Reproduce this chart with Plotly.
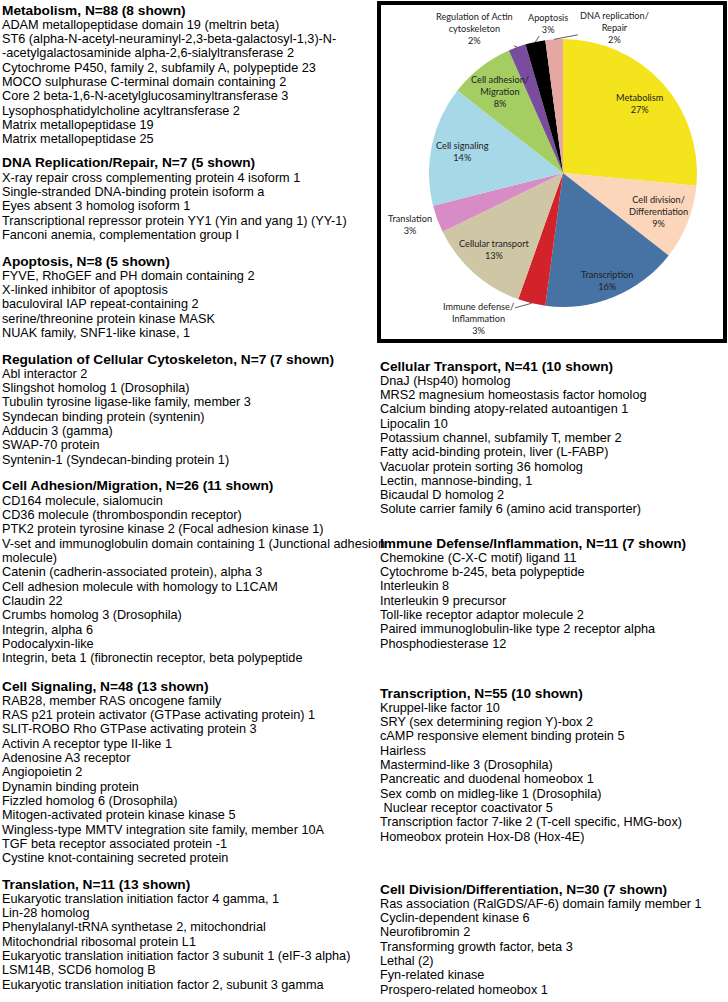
import math
import plotly.graph_objects as go

W, H = 728, 1002

# ---- pie data ----
categories = ["Metabolism", "Cell division/<br>Differentiation", "Transcription",
              "Immune defense/<br>Inflammation", "Cellular transport", "Translation",
              "Cell signaling", "Cell adhesion/<br>Migration",
              "Regulation of Actin<br>cytoskeleton", "Apoptosis", "DNA replication/<br>Repair"]
gene_counts = [88, 30, 55, 11, 41, 11, 48, 26, 7, 8, 7]
pct_labels = ["27%", "9%", "16%", "3%", "13%", "3%", "14%", "8%", "2%", "3%", "2%"]
slice_colors = ["#F4E41E", "#FCD6BA", "#4672A4", "#D2232A", "#CFC6A6", "#D78CC5",
                "#A7D8E8", "#A4CD62", "#7A4C9D", "#000000", "#E6A7A2"]
outside = ["Immune defense/<br>Inflammation", "Translation", "Regulation of Actin<br>cytoskeleton",
           "Apoptosis", "DNA replication/<br>Repair"]

# ---- gene lists ----
metabolism = ["ADAM metallopeptidase domain 19 (meltrin beta)",
              "ST6 (alpha-N-acetyl-neuraminyl-2,3-beta-galactosyl-1,3)-N-",
              "-acetylgalactosaminide alpha-2,6-sialyltransferase 2",
              "Cytochrome P450, family 2, subfamily A, polypeptide 23",
              "MOCO sulphurase C-terminal domain containing 2",
              "Core 2 beta-1,6-N-acetylglucosaminyltransferase 3",
              "Lysophosphatidylcholine acyltransferase 2",
              "Matrix metallopeptidase 19",
              "Matrix metallopeptidase 25"]
dna_repair = ["X-ray repair cross complementing protein 4 isoform 1",
              "Single-stranded DNA-binding protein isoform a",
              "Eyes absent 3 homolog isoform 1",
              "Transcriptional repressor protein YY1 (Yin and yang 1) (YY-1)",
              "Fanconi anemia, complementation group I"]
apoptosis = ["FYVE, RhoGEF and PH domain containing 2",
             "X-linked inhibitor of apoptosis",
             "baculoviral IAP repeat-containing 2",
             "serine/threonine protein kinase MASK",
             "NUAK family, SNF1-like kinase, 1"]
cytoskeleton = ["Abl interactor 2",
                "Slingshot homolog 1 (Drosophila)",
                "Tubulin tyrosine ligase-like family, member 3",
                "Syndecan binding protein (syntenin)",
                "Adducin 3 (gamma)",
                "SWAP-70 protein",
                "Syntenin-1 (Syndecan-binding protein 1)"]
adhesion = ["CD164 molecule, sialomucin",
            "CD36 molecule (thrombospondin receptor)",
            "PTK2 protein tyrosine kinase 2 (Focal adhesion kinase 1)",
            "V-set and immunoglobulin domain containing 1 (Junctional adhesion",
            "molecule)",
            "Catenin (cadherin-associated protein), alpha 3",
            "Cell adhesion molecule with homology to L1CAM",
            "Claudin 22",
            "Crumbs homolog 3 (Drosophila)",
            "Integrin, alpha 6",
            "Podocalyxin-like",
            "Integrin, beta 1 (fibronectin receptor, beta polypeptide"]
signaling = ["RAB28, member RAS oncogene family",
             "RAS p21 protein activator (GTPase activating protein) 1",
             "SLIT-ROBO Rho GTPase activating protein 3",
             "Activin A receptor type II-like 1",
             "Adenosine A3 receptor",
             "Angiopoietin 2",
             "Dynamin binding protein",
             "Fizzled homolog 6 (Drosophila)",
             "Mitogen-activated protein kinase kinase 5",
             "Wingless-type MMTV integration site family, member 10A",
             "TGF beta receptor associated protein -1",
             "Cystine knot-containing secreted protein"]
translation = ["Eukaryotic translation initiation factor 4 gamma, 1",
               "Lin-28 homolog",
               "Phenylalanyl-tRNA synthetase 2, mitochondrial",
               "Mitochondrial ribosomal protein L1",
               "Eukaryotic translation initiation factor 3 subunit 1 (eIF-3 alpha)",
               "LSM14B, SCD6 homolog B",
               "Eukaryotic translation initiation factor 2, subunit 3 gamma"]
transport = ["DnaJ (Hsp40) homolog",
             "MRS2 magnesium homeostasis factor homolog",
             "Calcium binding atopy-related autoantigen 1",
             "Lipocalin 10",
             "Potassium channel, subfamily T, member 2",
             "Fatty acid-binding protein, liver (L-FABP)",
             "Vacuolar protein sorting 36 homolog",
             "Lectin, mannose-binding, 1",
             "Bicaudal D homolog 2",
             "Solute carrier family 6 (amino acid transporter)"]
immune = ["Chemokine (C-X-C motif) ligand 11",
          "Cytochrome b-245, beta polypeptide",
          "Interleukin 8",
          "Interleukin 9 precursor",
          "Toll-like receptor adaptor molecule 2",
          "Paired immunoglobulin-like type 2 receptor alpha",
          "Phosphodiesterase 12"]
transcription = ["Kruppel-like factor 10",
                 "SRY (sex determining region Y)-box 2",
                 "cAMP responsive element binding protein 5",
                 "Hairless",
                 "Mastermind-like 3 (Drosophila)",
                 "Pancreatic and duodenal homeobox 1",
                 "Sex comb on midleg-like 1 (Drosophila)",
                 "\u00a0Nuclear receptor coactivator 5",
                 "Transcription factor 7-like 2 (T-cell specific, HMG-box)",
                 "Homeobox protein Hox-D8 (Hox-4E)"]
division = ["Ras association (RalGDS/AF-6) domain family member 1",
            "Cyclin-dependent kinase 6",
            "Neurofibromin 2",
            "Transforming growth factor, beta 3",
            "Lethal (2)",
            "Fyn-related kinase",
            "Prospero-related homeobox 1"]

left_sections = [("Metabolism, N=88 (8 shown)", metabolism),
                 ("DNA Replication/Repair, N=7 (5 shown)", dna_repair),
                 ("Apoptosis, N=8 (5 shown)", apoptosis),
                 ("Regulation of Cellular Cytoskeleton, N=7 (7 shown)", cytoskeleton),
                 ("Cell Adhesion/Migration, N=26 (11 shown)", adhesion),
                 ("Cell Signaling, N=48 (13 shown)", signaling),
                 ("Translation, N=11 (13 shown)", translation)]
right_sections = [("Cellular Transport, N=41 (10 shown)", transport),
                  ("Immune Defense/Inflammation, N=11 (7 shown)", immune),
                  ("Transcription, N=55 (10 shown)", transcription),
                  ("Cell Division/Differentiation, N=30 (7 shown)", division)]

# layout of the text columns (pixels from top-left)
left_head_y = [10, 163, 261, 359, 486, 686, 884]
right_head_y = [366, 543, 693, 889]
LINE_H = 14.3
HEAD_GAP = 14.8
TEXT_FONT = "Liberation Sans, Arial, sans-serif"
PIE_FONT = dict(family="Lato, sans-serif", size=9.2, color="#222222")


def fx(x):
    return x / W


def fy(y):
    return 1 - y / H


annotations = []


def add_section(x0, y0, title, items):
    annotations.append(dict(x=fx(x0), y=fy(y0), text="<b>%s</b>" % title,
                            font=dict(family=TEXT_FONT, size=13.7, color="black")))
    for i, item in enumerate(items):
        annotations.append(dict(x=fx(x0), y=fy(y0 + HEAD_GAP + i * LINE_H), text=item,
                                font=dict(family=TEXT_FONT, size=12.7, color="black")))


for (title, items), y0 in zip(left_sections, left_head_y):
    add_section(1, y0, title, items)
for (title, items), y0 in zip(right_sections, right_head_y):
    add_section(379, y0, title, items)

for a in annotations:
    a.update(xref="paper", yref="paper", xanchor="left", yanchor="middle",
             showarrow=False, align="left", borderpad=0)

# ---- pie ----
cx, cy, R = 563, 173, 134
fig = go.Figure()
fig.add_trace(go.Pie(
    labels=categories, values=gene_counts, sort=False, direction="clockwise",
    marker=dict(colors=slice_colors, line=dict(width=0)),
    textinfo="none",
    domain=dict(x=[fx(cx - R), fx(cx + R)], y=[fy(cy + R), fy(cy - R)]),
    showlegend=False, hoverinfo="label+value",
))

# outside labels with leader lines (label box centre in pixels)
label_pos = {"Immune defense/<br>Inflammation": (478, 318),
             "Translation": (410, 224),
             "Regulation of Actin<br>cytoskeleton": (474, 28),
             "Apoptosis": (548, 23),
             "DNA replication/<br>Repair": (614, 28)}
# inside labels sit on the slice bisector, at this fraction of the radius
inside_r = {"Transcription": 0.87}
total = sum(gene_counts)
cum = 0
for c, v, p in zip(categories, gene_counts, pct_labels):
    mid = (cum + v / 2) / total * 2 * math.pi
    cum += v
    if c not in outside:
        rr = R * inside_r.get(c, 0.77)
        annotations.append(dict(
            xref="paper", yref="paper", x=fx(cx + rr * math.sin(mid)), y=fy(cy - rr * math.cos(mid)),
            xanchor="center", yanchor="middle",
            text="%s<br>%s" % (c, p), showarrow=False, font=PIE_FONT, align="center"))
        continue
    tx = cx + R * math.sin(mid)
    ty = cy - R * math.cos(mid)
    lx, ly = label_pos[c]
    arrow = c != "Translation"
    annotations.append(dict(
        xref="paper", yref="paper", x=fx(tx if arrow else lx), y=fy(ty if arrow else ly),
        xanchor="center", yanchor="middle",
        text="%s<br>%s" % (c, p), showarrow=arrow, arrowhead=0, arrowwidth=0.8,
        arrowcolor="#333333", standoff=0, ax=lx - tx, ay=ly - ty,
        font=PIE_FONT, align="center"))

fig.update_layout(
    width=W, height=H, margin=dict(l=0, r=0, t=0, b=0),
    paper_bgcolor="white", plot_bgcolor="white",
    annotations=annotations,
    shapes=[dict(type="rect", xref="paper", yref="paper", x0=fx(379), x1=fx(725),
                 y0=fy(341), y1=fy(3), line=dict(color="black", width=4))],
)

fig.write_html("out.html", config={"displayModeBar": False},
               post_script="document.body.style.margin = '0px';")
